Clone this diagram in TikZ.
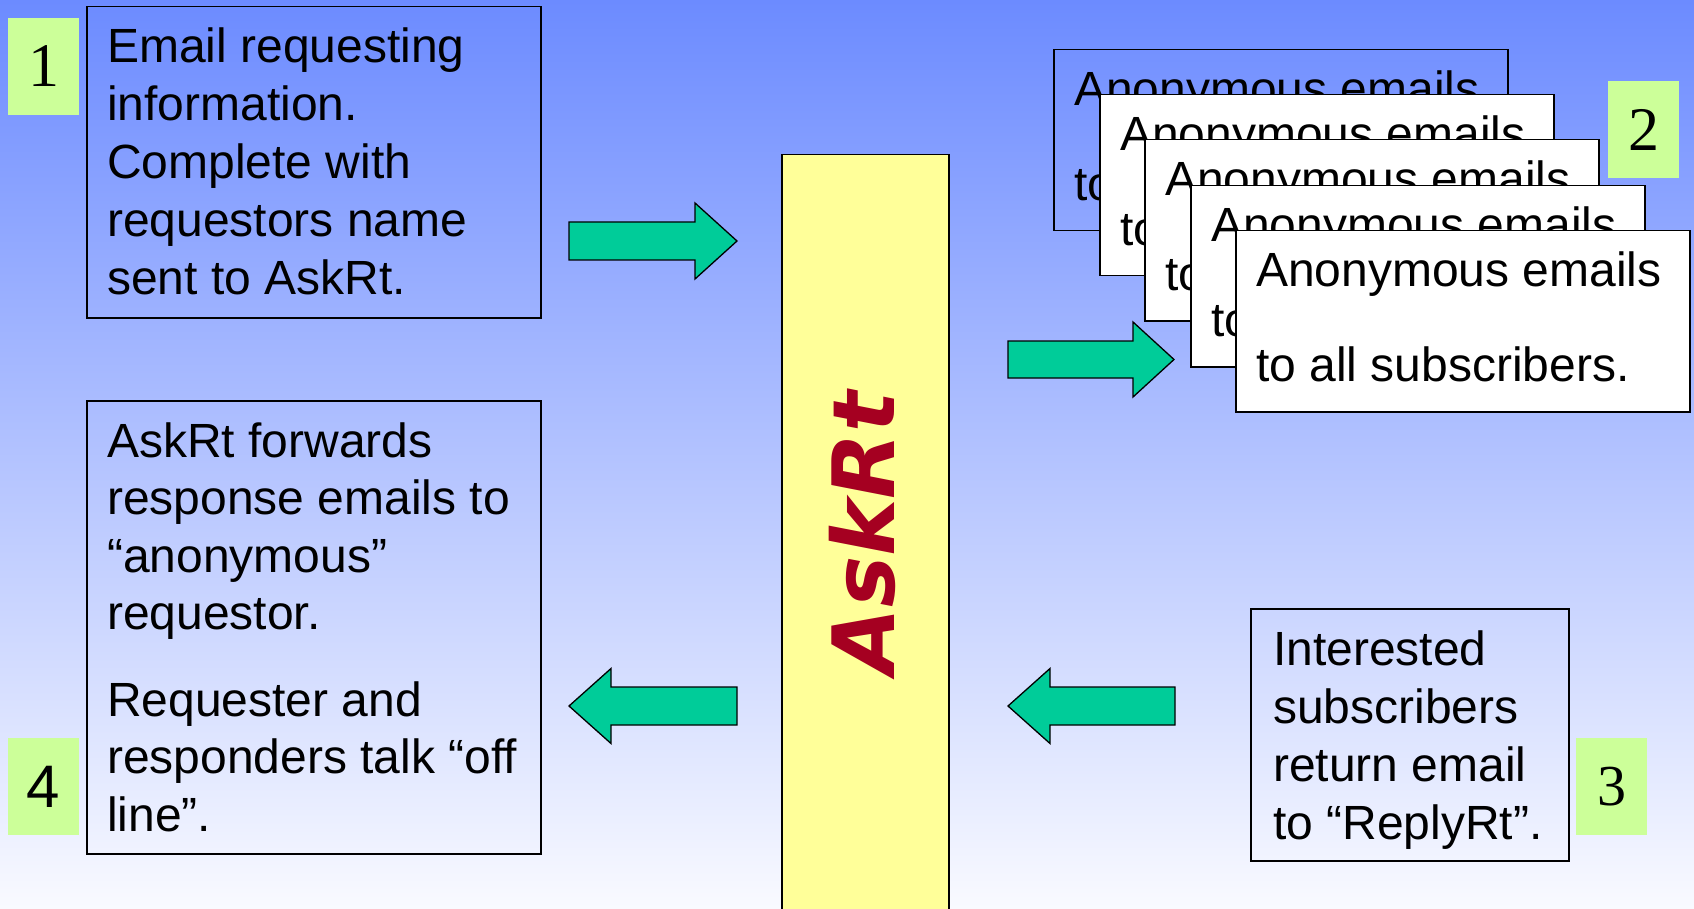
\documentclass[tikz,border=0pt]{standalone}
\usepackage{fontspec}
\setmainfont{Liberation Sans}
\newfontfamily\digserif{Liberation Serif}
\newfontfamily\barfont{DejaVu Sans Bold Oblique}
\definecolor{bgtop}{HTML}{6C8BFF}
\definecolor{bgmid}{HTML}{CDD3FC}
\definecolor{bgbot}{HTML}{F9FAFF}
\definecolor{numgreen}{HTML}{CCFF99}
\definecolor{arrgreen}{HTML}{00CC99}
\definecolor{baryellow}{HTML}{FFFF99}
\definecolor{askred}{HTML}{A50021}
\tikzset{
  frame/.style={draw=black, line width=1.5pt, inner sep=0pt, anchor=north west},
  whiteframe/.style={frame, fill=white},
  bodytext/.style={inner sep=0pt, anchor=base west, font=\fontsize{48}{58}\selectfont},
  numbox/.style={fill=numgreen, inner sep=0pt, minimum width=71pt, minimum height=97pt},
  blockarrow/.style={draw=black, line width=1.3pt, fill=arrgreen, line join=miter},
}
\begin{document}
\begin{tikzpicture}[x=1pt, y=-1pt]
\useasboundingbox (0,0) rectangle (1694,909);
\shade[top color=bgtop, middle color=bgmid, bottom color=bgbot] (0,0) rectangle (1694,909);

% central bar
\node[frame, fill=baryellow, minimum width=167pt, minimum height=820pt] (bar) at (781,154) {};
\node[rotate=90, text=askred, inner sep=0pt, font=\barfont\fontsize{86}{86}\selectfont] (askrt) at (862,533) {AskRt};

% box 1
\node[frame, minimum width=454pt, minimum height=311pt] (b1) at (86,6) {};
\node[bodytext] (t1) at (107,63) {\parbox[t]{430pt}{\raggedright Email requesting\\information.\\Complete with\\requestors name\\sent to AskRt.}};

% box 4
\node[frame, minimum width=454pt, minimum height=453pt] (b4) at (86,400) {};
\node[bodytext, font=\fontsize{48}{57.5}\selectfont] (t4) at (107,457) {\parbox[t]{430pt}{\raggedright AskRt forwards\\response emails to\\“anonymous”\\requestor.\\[29pt]Requester and\\responders talk “off\\line”.}};

% box 3
\node[frame, minimum width=318pt, minimum height=252pt] (b3) at (1250,608) {};
\node[bodytext] (t3) at (1273,665) {\parbox[t]{300pt}{\raggedright Interested\\subscribers\\return email\\to “ReplyRt”.}};

% stacked boxes
\node[frame, minimum width=454pt, minimum height=181pt] (sa) at (1053,49) {};
\node[bodytext, font=\fontsize{48}{95}\selectfont] (ta) at (1074,106) {\parbox[t]{430pt}{\raggedright Anonymous emails\\to all subscribers.}};
\node[whiteframe, minimum width=454pt, minimum height=181pt] (sb) at (1099,94) {};
\node[bodytext, font=\fontsize{48}{95}\selectfont] (tb) at (1120,151) {\parbox[t]{430pt}{\raggedright Anonymous emails\\to all subscribers.}};
\node[whiteframe, minimum width=454pt, minimum height=181pt] (sc) at (1144,139) {};
\node[bodytext, font=\fontsize{48}{95}\selectfont] (tc) at (1165,196) {\parbox[t]{430pt}{\raggedright Anonymous emails\\to all subscribers.}};
\node[whiteframe, minimum width=454pt, minimum height=181pt] (sd) at (1190,185) {};
\node[bodytext, font=\fontsize{48}{95}\selectfont] (td) at (1211,242) {\parbox[t]{430pt}{\raggedright Anonymous emails\\to all subscribers.}};
\node[whiteframe, minimum width=454pt, minimum height=181pt] (se) at (1235,230) {};
\node[bodytext, font=\fontsize{48}{95}\selectfont] (te) at (1256,287) {\parbox[t]{430pt}{\raggedright Anonymous emails\\to all subscribers.}};

% arrows
\draw[blockarrow] (569,222) -- (695,222) -- (695,203) -- (737,241) -- (695,279) -- (695,260) -- (569,260) -- cycle;
\draw[blockarrow] (1008,341) -- (1133,341) -- (1133,322) -- (1174,359.5) -- (1133,397) -- (1133,378) -- (1008,378) -- cycle;
\draw[blockarrow] (737,687) -- (611,687) -- (611,668.5) -- (569,706) -- (611,743.5) -- (611,725) -- (737,725) -- cycle;
\draw[blockarrow] (1175,687) -- (1050,687) -- (1050,668.5) -- (1008,706) -- (1050,743.5) -- (1050,725) -- (1175,725) -- cycle;

% number squares
\node[numbox, font=\digserif\fontsize{62}{62}\selectfont] (n1) at (43.5,66.5) {1};
\node[numbox, font=\digserif\fontsize{62}{62}\selectfont] (n2) at (1643.5,130) {2};
\node[numbox, font=\digserif\fontsize{58}{58}\selectfont] (n3) at (1611.5,786.5) {3};
\node[numbox, font=\fontsize{60}{60}\selectfont] (n4) at (43.5,786.5) {4};
\end{tikzpicture}
\end{document}
